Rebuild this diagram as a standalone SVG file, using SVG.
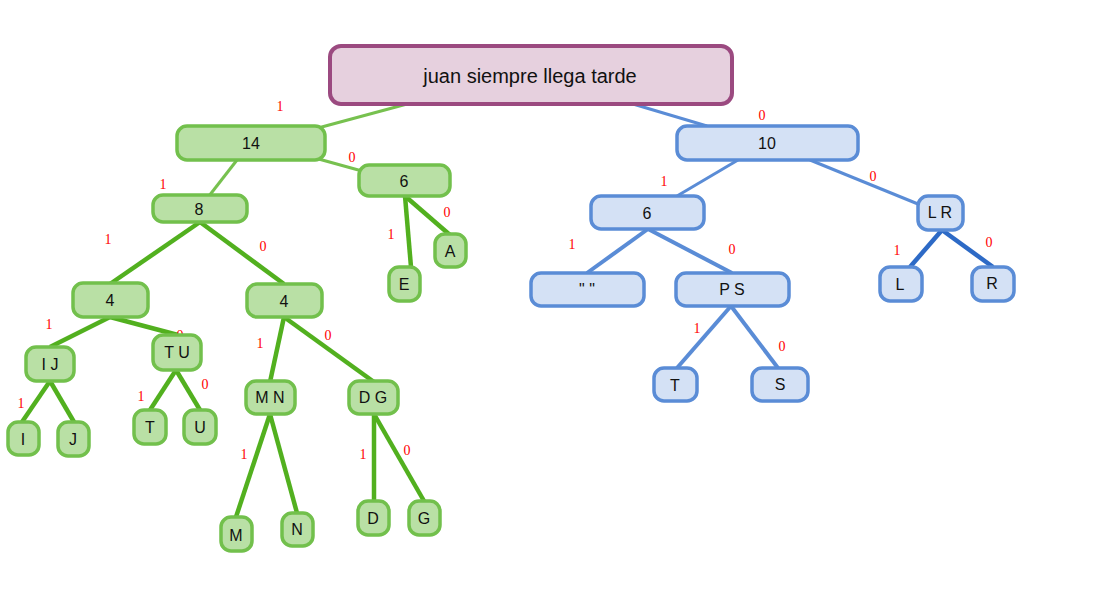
<svg xmlns="http://www.w3.org/2000/svg" width="1112" height="594" viewBox="0 0 1112 594">
<style>
.g rect{fill:#b9e0a5;stroke:#72c04c;stroke-width:3.5}
.b rect{fill:#d4e1f5;stroke:#5a8cd6;stroke-width:3.5}
.r rect{fill:#e6d0de;stroke:#9b4a80;stroke-width:4}
text.n{font-family:"Liberation Sans",Arial,sans-serif;font-size:16px;fill:#111;text-anchor:middle;dominant-baseline:central}
text.l{font-family:"Liberation Serif","Times New Roman",serif;font-size:14px;fill:#ff0000;text-anchor:middle;dominant-baseline:central}
.e1{stroke:#77c14f;stroke-width:3;fill:none}
.e2{stroke:#52b01f;stroke-width:4.5;fill:none}
.eb1{stroke:#5a8cd6;stroke-width:3;fill:none}
.eb2{stroke:#5a8cd6;stroke-width:4;fill:none}
.eb3{stroke:#2d6ac6;stroke-width:4.5;fill:none}
</style>
<g id="connectors">
<line class="e1" x1="407" y1="104" x2="318" y2="128"/>
<line class="e1" x1="315" y1="158" x2="362" y2="171"/>
<line class="e1" x1="237" y1="160" x2="209" y2="196"/>
<line class="e2" x1="200" y1="222" x2="110" y2="284"/>
<line class="e2" x1="200" y1="222" x2="284" y2="284"/>
<line class="e2" x1="110" y1="317" x2="50" y2="347"/>
<line class="e2" x1="110" y1="317" x2="178" y2="335"/>
<line class="e2" x1="284" y1="317" x2="270" y2="382"/>
<line class="e2" x1="284" y1="317" x2="374" y2="382"/>
<line class="e2" x1="50" y1="381" x2="22" y2="422"/>
<line class="e2" x1="50" y1="381" x2="74" y2="422"/>
<line class="e2" x1="176" y1="370" x2="150" y2="410"/>
<line class="e2" x1="176" y1="370" x2="200" y2="410"/>
<line class="e2" x1="270" y1="414" x2="236" y2="517"/>
<line class="e2" x1="270" y1="414" x2="297" y2="513"/>
<line class="e2" x1="374" y1="414" x2="374" y2="501"/>
<line class="e2" x1="374" y1="414" x2="424" y2="501"/>
<line class="e2" x1="405" y1="196" x2="411" y2="267"/>
<line class="e2" x1="405" y1="196" x2="450" y2="235"/>
<line class="eb1" x1="633" y1="104" x2="707" y2="126"/>
<line class="eb1" x1="738" y1="160" x2="677" y2="196"/>
<line class="eb1" x1="810" y1="160" x2="918" y2="204"/>
<line class="eb2" x1="648" y1="229" x2="587" y2="273"/>
<line class="eb2" x1="648" y1="229" x2="732" y2="273"/>
<line class="eb2" x1="731" y1="306" x2="677" y2="368"/>
<line class="eb2" x1="731" y1="306" x2="778" y2="368"/>
<line class="eb3" x1="942" y1="230" x2="910" y2="267"/>
<line class="eb3" x1="942" y1="230" x2="993" y2="267"/>
<text class="l" x="280" y="106">1</text>
<text class="l" x="352" y="157">0</text>
<text class="l" x="163" y="184">1</text>
<text class="l" x="108" y="239">1</text>
<text class="l" x="263" y="246">0</text>
<text class="l" x="49" y="324">1</text>
<text class="l" x="180" y="335">0</text>
<text class="l" x="260" y="343">1</text>
<text class="l" x="328" y="335">0</text>
<text class="l" x="21" y="403">1</text>
<text class="l" x="141" y="396">1</text>
<text class="l" x="205" y="384">0</text>
<text class="l" x="244" y="454">1</text>
<text class="l" x="363" y="454">1</text>
<text class="l" x="407" y="450">0</text>
<text class="l" x="391" y="234">1</text>
<text class="l" x="447" y="212">0</text>
<text class="l" x="762" y="115">0</text>
<text class="l" x="664" y="181">1</text>
<text class="l" x="873" y="176">0</text>
<text class="l" x="572" y="244">1</text>
<text class="l" x="732" y="249">0</text>
<text class="l" x="697" y="328">1</text>
<text class="l" x="782" y="346">0</text>
<text class="l" x="897" y="250">1</text>
<text class="l" x="989" y="242">0</text>
</g>
<g id="root" class="r"><rect x="330" y="46" width="402" height="58" rx="11"/><text class="n" x="530" y="76" style="font-size:20px">juan siempre llega tarde</text></g>
<g id="n14" class="g"><rect x="177" y="126" width="148" height="34" rx="10"/><text class="n" x="251" y="143">14</text></g>
<g id="n6g" class="g"><rect x="359" y="165" width="91" height="31" rx="10"/><text class="n" x="404" y="181">6</text></g>
<g id="n8" class="g"><rect x="153" y="195" width="94" height="27" rx="10"/><text class="n" x="199" y="209">8</text></g>
<g id="n4a" class="g"><rect x="73" y="283" width="75" height="34" rx="10"/><text class="n" x="110" y="300">4</text></g>
<g id="n4b" class="g"><rect x="247" y="284" width="75" height="33" rx="10"/><text class="n" x="284" y="301">4</text></g>
<g id="nIJ" class="g"><rect x="26" y="347" width="48" height="34" rx="10"/><text class="n" x="50" y="364">I J</text></g>
<g id="nTU" class="g"><rect x="153" y="335" width="48" height="35" rx="10"/><text class="n" x="177" y="352">T U</text></g>
<g id="nMN" class="g"><rect x="246" y="381" width="49" height="33" rx="10"/><text class="n" x="270" y="397">M N</text></g>
<g id="nDG" class="g"><rect x="349" y="381" width="49" height="33" rx="10"/><text class="n" x="373" y="397">D G</text></g>
<g id="nI" class="g"><rect x="8" y="422" width="31" height="33" rx="10"/><text class="n" x="23" y="439">I</text></g>
<g id="nJ" class="g"><rect x="58" y="422" width="31" height="34" rx="10"/><text class="n" x="73" y="439">J</text></g>
<g id="nT" class="g"><rect x="134" y="410" width="32" height="34" rx="10"/><text class="n" x="150" y="427">T</text></g>
<g id="nU" class="g"><rect x="184" y="410" width="32" height="34" rx="10"/><text class="n" x="200" y="427">U</text></g>
<g id="nM" class="g"><rect x="221" y="517" width="31" height="34" rx="10"/><text class="n" x="236" y="535">M</text></g>
<g id="nN" class="g"><rect x="282" y="513" width="31" height="33" rx="10"/><text class="n" x="297" y="529">N</text></g>
<g id="nD" class="g"><rect x="358" y="501" width="31" height="34" rx="10"/><text class="n" x="373" y="518">D</text></g>
<g id="nG" class="g"><rect x="409" y="501" width="31" height="34" rx="10"/><text class="n" x="424" y="518">G</text></g>
<g id="nE" class="g"><rect x="389" y="267" width="31" height="34" rx="10"/><text class="n" x="404" y="284">E</text></g>
<g id="nA" class="g"><rect x="435" y="234" width="31" height="33" rx="10"/><text class="n" x="450" y="251">A</text></g>
<g id="n10" class="b"><rect x="677" y="126" width="181" height="34" rx="10"/><text class="n" x="767" y="143">10</text></g>
<g id="n6b" class="b"><rect x="591" y="196" width="113" height="33" rx="10"/><text class="n" x="647" y="213">6</text></g>
<g id="nSp" class="b"><rect x="531" y="273" width="113" height="33" rx="10"/><text class="n" x="587" y="289">" "</text></g>
<g id="nPS" class="b"><rect x="676" y="273" width="113" height="33" rx="10"/><text class="n" x="732" y="289">P S</text></g>
<g id="nT2" class="b"><rect x="654" y="368" width="43" height="33" rx="10"/><text class="n" x="675" y="385">T</text></g>
<g id="nS" class="b"><rect x="752" y="368" width="56" height="33" rx="10"/><text class="n" x="780" y="384">S</text></g>
<g id="nLR" class="b"><rect x="918" y="196" width="45" height="34" rx="10"/><text class="n" x="940" y="212">L R</text></g>
<g id="nL" class="b"><rect x="880" y="267" width="42" height="34" rx="10"/><text class="n" x="900" y="284">L</text></g>
<g id="nR" class="b"><rect x="972" y="267" width="42" height="34" rx="10"/><text class="n" x="992" y="283">R</text></g>
</svg>
